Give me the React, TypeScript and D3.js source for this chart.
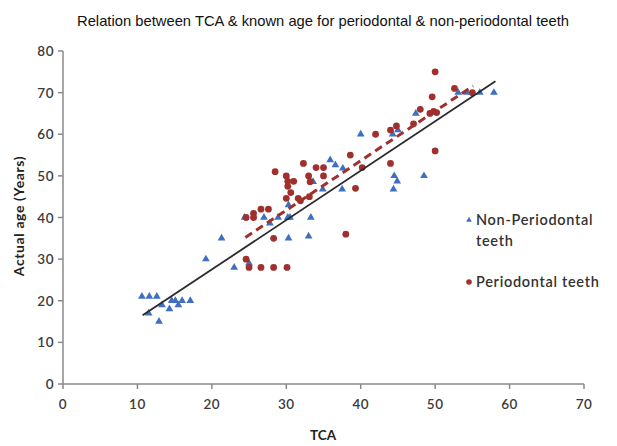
import React from 'react';
import * as d3 from 'd3';

// TCA vs actual age
const nonPerioTeeth: [number, number][] = [
  [10.6, 21], [11.6, 21], [12.6, 21], [11.5, 17], [12.9, 15], [13.3, 19],
  [14.3, 18], [14.6, 20], [15.1, 20], [15.5, 19], [16, 20], [17.1, 20],
  [19.2, 30], [21.3, 35], [23, 28], [25, 29], [24.4, 40], [27, 40],
  [27.8, 38.6], [28.9, 40], [30.2, 40], [30.5, 40], [30.3, 35], [30.3, 43],
  [33, 35.5], [33.3, 40], [33.6, 48.6], [34.9, 46.8], [35.9, 53.8], [36.6, 52.6],
  [37.5, 46.8], [37.6, 51.8], [40, 60], [44.3, 60], [45, 61], [44.5, 50],
  [44.9, 48.7], [44.4, 46.8], [48.5, 50], [47.4, 65], [53.1, 70], [54.3, 70],
  [56, 70], [57.9, 70],
];

const perioTeeth: [number, number][] = [
  [24.6, 30], [25, 28], [26.6, 28], [28.3, 28], [30.1, 28], [24.6, 40],
  [25.6, 40], [25.6, 41], [26.6, 42], [27.6, 42], [28.3, 35], [28.5, 51],
  [30, 50], [30.2, 48.7], [31, 48.7], [30.2, 47.5], [30.6, 46], [30, 44.6],
  [31.6, 44.6], [31.9, 44], [33.1, 45], [32.3, 53], [33, 50], [33.2, 48.6],
  [34, 52], [35, 52], [35, 50], [38, 36], [38.6, 55], [39.3, 47],
  [40.2, 52], [42, 60], [44, 61], [44.8, 62], [44, 53], [47.1, 62.5],
  [48, 66], [49.3, 65], [49.8, 65.5], [50.2, 65.2], [49.6, 69], [50, 75],
  [50, 56], [52.6, 71], [55, 70],
];

// linear trendlines: [slope, intercept, xStart, xEnd]
const nonPerioTrend = [1.186, 3.8, 10.7, 58.1];
const perioTrend = [1.19, 6.05, 24.5, 55.1];

const xTicks = [0, 10, 20, 30, 40, 50, 60, 70];
const yTicks = [0, 10, 20, 30, 40, 50, 60, 70, 80];

const W = 617;
const H = 446;
const axisColor = '#8a8a8a';
const blue = '#3e6fc0';
const red = '#a0302e';
const labelFont = 'Lato, "Open Sans", sans-serif';

export default function App() {
  const x = d3.scaleLinear().domain([0, 70]).range([63, 584]);
  const y = d3.scaleLinear().domain([0, 80]).range([384, 51]);

  const tri = d3.symbol().type(d3.symbolTriangle).size(26)();
  const trendLine = (t: number[]) =>
    d3.line()([
      [x(t[2]), y(t[0] * t[2] + t[1])],
      [x(t[3]), y(t[0] * t[3] + t[1])],
    ]) as string;

  return (
    <svg width={W} height={H} style={{ position: 'absolute', left: 0, top: 0, background: '#fff' }}>
      <text x={323} y={26} textAnchor="middle" fontFamily="'Liberation Sans', Arial, sans-serif"
        fontSize={14.5} fill="#111" textLength={492} lengthAdjust="spacingAndGlyphs">
        Relation between TCA &amp; known age for periodontal &amp; non-periodontal teeth
      </text>

      {/* axes */}
      <line x1={x(0)} x2={x(0)} y1={y(80)} y2={y(0)} stroke={axisColor} strokeWidth={1.5} />
      <line x1={x(0)} x2={x(70)} y1={y(0)} y2={y(0)} stroke={axisColor} strokeWidth={1.5} />
      {yTicks.map(t => (
        <g key={'y' + t}>
          <line x1={x(0) - 5} x2={x(0)} y1={y(t)} y2={y(t)} stroke={axisColor} strokeWidth={1.5} />
          <text x={x(0) - 9} y={y(t) + 5} textAnchor="end" fontFamily={labelFont}
            fontSize={13.5} fontWeight={600} fill="#3a3a3a" letterSpacing={0.5}>{t}</text>
        </g>
      ))}
      {xTicks.map(t => (
        <g key={'x' + t}>
          <line x1={x(t)} x2={x(t)} y1={y(0)} y2={y(0) + 5} stroke={axisColor} strokeWidth={1.5} />
          <text x={x(t)} y={y(0) + 25} textAnchor="middle" fontFamily={labelFont}
            fontSize={13.5} fontWeight={600} fill="#3a3a3a" letterSpacing={0.5}>{t}</text>
        </g>
      ))}

      <text x={323} y={440} textAnchor="middle" fontFamily={labelFont} fontSize={13.5}
        fontWeight={700} fill="#222">TCA</text>
      <text transform="translate(24,216) rotate(-90)" textAnchor="middle" fontFamily={labelFont}
        fontSize={14} fontWeight={700} fill="#222" letterSpacing={0.6}>Actual age (Years)</text>

      {/* points */}
      {nonPerioTeeth.map((d, i) => (
        <path key={'b' + i} d={tri} transform={`translate(${x(d[0])},${y(d[1])})`} fill={blue} />
      ))}
      {perioTeeth.map((d, i) => (
        <circle key={'r' + i} cx={x(d[0])} cy={y(d[1])} r={3.4} fill={red} />
      ))}

      {/* trendlines */}
      <path d={trendLine(nonPerioTrend)} stroke="#2a2a2a" strokeWidth={1.8} fill="none" />
      <path d={trendLine(perioTrend)} stroke={red} strokeWidth={3} strokeDasharray="8,5" fill="none" />

      {/* legend */}
      <path d={d3.symbol().type(d3.symbolTriangle).size(14)()} transform="translate(469,220)" fill={blue} />
      <text x={476} y={225} fontFamily={labelFont} fontSize={14.5} fontWeight={600} fill="#333"
        letterSpacing={0.7}>Non-Periodontal</text>
      <text x={476} y={246} fontFamily={labelFont} fontSize={14.5} fontWeight={600} fill="#333"
        letterSpacing={0.7}>teeth</text>
      <circle cx={469} cy={282} r={2.8} fill={red} />
      <text x={476} y={287} fontFamily={labelFont} fontSize={14.5} fontWeight={600} fill="#333"
        letterSpacing={0.7}>Periodontal teeth</text>
    </svg>
  );
}
